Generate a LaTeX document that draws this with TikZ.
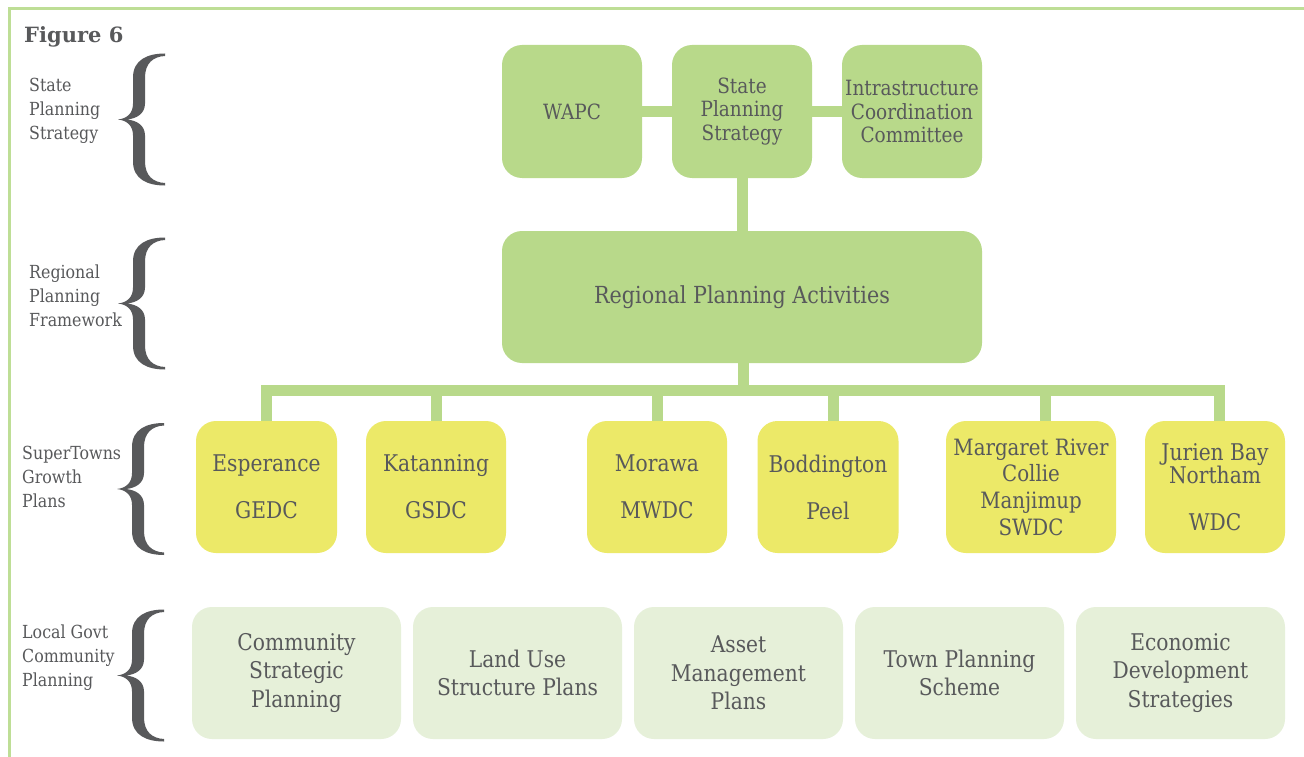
\documentclass[tikz,border=0pt]{standalone}
\usepackage{fontspec}
\setmainfont{DejaVu Serif}[FakeStretch=0.88]
\newfontfamily\figfont{DejaVu Serif}
\definecolor{topgreen}{RGB}{184,217,138}
\definecolor{bordergreen}{RGB}{190,222,150}
\definecolor{townyellow}{RGB}{236,233,104}
\definecolor{palegreen}{RGB}{230,240,217}
\definecolor{textgray}{RGB}{88,89,91}
\tikzset{
  basebox/.style={rounded corners=20, inner sep=0, align=center, text=textgray},
  topbox/.style={basebox, fill=topgreen, minimum width=140, minimum height=133,
    font=\fontsize{21}{23.5}\selectfont},
  regbox/.style={basebox, fill=topgreen, minimum width=480, minimum height=132,
    font=\fontsize{23.5}{24}\selectfont},
  townbox/.style={basebox, fill=townyellow, minimum width=140, minimum height=132,
    font=\fontsize{23}{23.5}\selectfont},
  localbox/.style={basebox, fill=palegreen, minimum width=209, minimum height=132,
    font=\fontsize{23}{28.5}\selectfont},
  sidelabel/.style={anchor=west, align=left, inner sep=0, text=textgray,
    font=\fontsize{18}{24}\selectfont},
  conn/.style={draw=topgreen, line width=11},
  bigbrace/.pic={
    \fill[textgray] (47,-66) .. controls (30,-66) and (15,-60) .. (15,-42)
      -- (15,-16) .. controls (15,-6) and (9,-1) .. (0,0)
      .. controls (9,1) and (15,6) .. (15,16)
      -- (15,42) .. controls (15,60) and (30,66) .. (47,66)
      -- (47,63.5) .. controls (35,63) and (27,56) .. (27,42)
      -- (27,16) .. controls (27,6) and (19,1) .. (9,0)
      .. controls (19,-1) and (27,-6) .. (27,-16)
      -- (27,-42) .. controls (27,-56) and (35,-63) .. (47,-63.5) -- cycle;
  }
}
\begin{document}
\begin{tikzpicture}[x=1pt,y=-1pt]
\useasboundingbox (0,0) rectangle (1304,757);
\fill[white] (0,0) rectangle (1304,757);
\draw[bordergreen, line width=3] (1304,9) -- (9,9) -- (9,757);

\node[anchor=base west, inner sep=0, text=textgray, font=\figfont\bfseries\fontsize{21}{24}\selectfont] (fig) at (24,43) {Figure 6};

% side labels
\node[sidelabel] (l1) at (29,111) {State\\Planning\\Strategy};
\node[sidelabel] (l2) at (29,296) {Regional\\Planning\\Framework};
\node[sidelabel] (l3) at (22,477) {SuperTowns\\Growth\\Plans};
\node[sidelabel] (l4) at (22,658) {Local Govt\\Community\\Planning};

% braces
\pic at (118,119.5) {bigbrace};
\pic at (118,303.5) {bigbrace};
\pic at (117,489) {bigbrace};
\pic at (117,675.5) {bigbrace};

% top row
\node[topbox] (wapc) at (572,111.5) {WAPC};
\node[topbox] (sps) at (742,111.5) {State\\Planning\\Strategy};
\node[topbox] (icc) at (912,111.5) {Intrastructure\\Coordination\\Committee};

% regional
\node[regbox] (rpa) at (742,297) {Regional Planning Activities};

% supertowns
\node[townbox, minimum width=141] (esp) at (266.5,487) {Esperance\\[23.5pt]GEDC};
\node[townbox] (kat) at (436,487) {Katanning\\[23.5pt]GSDC};
\node[townbox] (mor) at (657,487) {Morawa\\[23.5pt]MWDC};
\node[townbox, minimum width=141] (bod) at (828,487) {Boddington\\[23.5pt]Peel};
\node[townbox, minimum width=170, font=\fontsize{22.5}{26.7}\selectfont] (mr) at (1031,487) {Margaret River\\Collie\\Manjimup\\SWDC};
\node[townbox] (jb) at (1215,487) {Jurien Bay\\Northam\\[23.5pt]WDC};

% local govt
\node[localbox] (c1) at (296.5,673) {Community\\Strategic\\Planning};
\node[localbox] (c2) at (517.5,673) {Land Use\\Structure Plans};
\node[localbox] (c3) at (738.5,673) {Asset\\Management\\Plans};
\node[localbox] (c4) at (959.5,673) {Town Planning\\Scheme};
\node[localbox] (c5) at (1180.5,673) {Economic\\Development\\Strategies};

% connectors
\coordinate (bus) at (743,390.5);
\draw[conn] (wapc) -- (sps);
\draw[conn] (sps) -- (icc);
\draw[conn] (sps.south) -- (rpa.north);
\draw[conn] ([xshift=1]rpa.south) -- (bus);
\draw[conn] (esp.north) |- (bus) -| ([xshift=4]jb.north);
\draw[conn] (bus) -| (kat.north);
\draw[conn] (bus) -| (mor.north);
\draw[conn] (bus) -| ([xshift=5]bod.north);
\draw[conn] (bus) -| ([xshift=14]mr.north);
\end{tikzpicture}
\end{document}
